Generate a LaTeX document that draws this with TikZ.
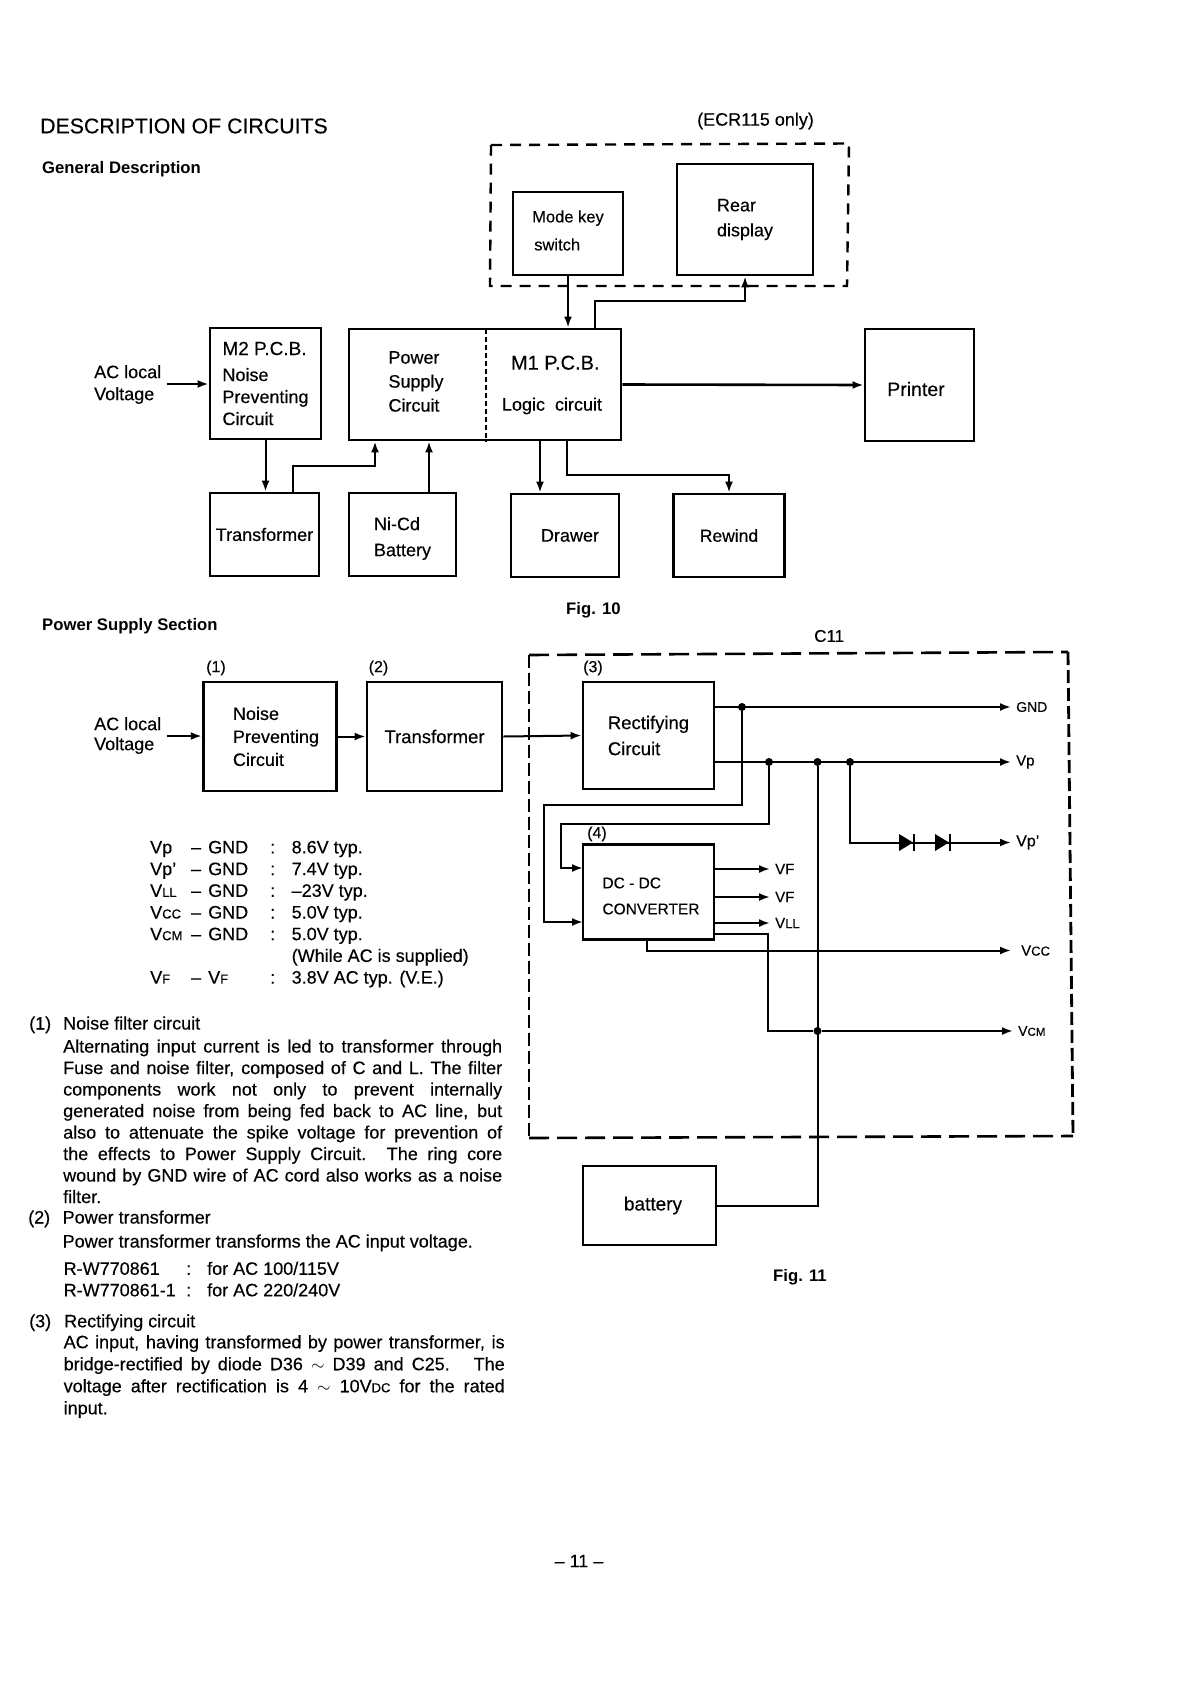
\documentclass[tikz,border=0pt]{standalone}
\usepackage{fontspec}
\usepackage{array}
\setmainfont{Liberation Sans}[UprightFeatures={FakeBold=0.3}]
\usetikzlibrary{arrows.meta}
\newcommand{\smc}[1]{{\fontsize{13}{13}\selectfont #1}}
\newcommand{\nudge}[2]{\raisebox{#1pt}[\height][\depth]{#2}}
\tikzset{
    blockbox/.style = {draw, line width=2.9pt, align=left, inner sep=0pt, font=\fontsize{18}{22}\selectfont},
    lbl/.style = {inner sep=0pt, anchor=west, align=left, font=\fontsize{18}{22}\selectfont},
    bodyline/.style = {lbl, anchor=base west},
    headbold/.style = {lbl, font=\fontsize{16.7}{20}\bfseries\selectfont},
    numlbl/.style = {lbl, font=\fontsize{16}{20}\selectfont},
    sig/.style = {lbl, inner xsep=5pt, font=\fontsize{15}{18}\selectfont},
    para/.style = {inner sep=0pt, anchor=north west, text width=439pt, align=justify},
    arr/.style = {line width=2pt, -{Latex[length=11pt,width=8pt]}},
    wire/.style = {line width=2pt},
    dashbox/.style = {line width=2.4pt, dash pattern=on 11pt off 8pt},
    dashlong/.style = {line width=2.6pt, dash pattern=on 20pt off 8pt},
    dashshort/.style = {line width=2.8pt, dash pattern=on 13pt off 5pt},
    dot/.style = {circle, fill, inner sep=0pt, minimum size=8pt},
    diodesym/.pic = {
        \fill (-7,-8.5) -- (7,0) -- (-7,8.5) -- cycle;
        \draw[line width=2pt] (8,-8.5) -- (8,8.5);
    }
}
\begin{document}
\begin{tikzpicture}[x=1pt, y=-1pt]
        \useasboundingbox (0,0) rectangle (1191,1683);

        \node (title) [lbl, font=\fontsize{21.3}{24}\selectfont] at (40,126) {\addfontfeature{FakeBold=1}DESCRIPTION OF CIRCUITS};
        \node (gendesc) [headbold] at (42,169) {General Description};
        \node (ecronly) [lbl] at (697,121) {(ECR115 only)};

        \draw[dashbox] (491,145) -- (849,143.5) -- (847,286) -- (490,286) -- cycle;

        \node (modekey) [blockbox, minimum width=110pt, minimum height=83pt] at (568,233.5) {\nudge{3}{\fontsize{16.5}{22}\selectfont Mode key}\\[6pt]\hspace*{2pt}\nudge{3}{\fontsize{16.5}{22}\selectfont switch}};
        \node (rear) [blockbox, minimum width=136pt, minimum height=111pt] at (745,219.5) {Rear\\[3pt]display};
        \node (m2) [blockbox, minimum width=111pt, minimum height=111pt] at (265.5,383.5) {{\fontsize{19}{23}\selectfont M2 P.C.B.}\\[4pt]Noise\\Preventing\\Circuit};
        \node (pcb) [blockbox, minimum width=272pt, minimum height=111pt] at (485,384.5) {};
        \node (psutext) [lbl, anchor=center] at (416,381.5) {Power\\[2pt]Supply\\[2pt]Circuit};
        \node (m1text) [lbl, anchor=center] at (552,385) {\hspace*{9pt}{\fontsize{20}{23}\selectfont M1 P.C.B.}\\[19pt]Logic\ \ circuit};
        \node (printer) [blockbox, minimum width=109pt, minimum height=112pt, font=\fontsize{19.5}{22}\selectfont] at (919.5,385) {\nudge{-4}{Printer}\hspace*{7pt}};
        \node (trafo) [blockbox, minimum width=109pt, minimum height=83pt] at (264.5,534.5) {Transformer};
        \node (nicd) [blockbox, minimum width=107pt, minimum height=83pt] at (402.5,534.5) {\nudge{-4}{Ni-Cd}\\[4pt]\nudge{-4}{Battery}};
        \node (drawer) [blockbox, minimum width=108pt, minimum height=83pt] at (565,535.5) {\hspace*{10pt}Drawer};
        \node (rewind) [blockbox, minimum width=111pt, minimum height=83pt, font=\fontsize{17.5}{22}\selectfont] at (729,535.5) {Rewind};
        \node (acone) [lbl] at (94,384.5) {AC local\\Voltage};
        \node (figten) [headbold] at (566,610) {Fig. 10};

        \coordinate (acstart) at (167,384);
        \coordinate (rearup) at (595,301);
        \coordinate (psuup) at (293,466);
        \coordinate (psuin) at (375,466);
        \coordinate (nicdup) at (429,466);
        \coordinate (drawdown) at (540,466);
        \coordinate (rewdown) at (567,475);
        \coordinate (divtop) at (486,329);

        \draw[arr] (acstart) -- (m2.west |- acstart);
        \draw[arr] (modekey.south) -- (pcb.north -| modekey.south);
        \draw[arr] (pcb.north -| rearup) -- (rearup) -| (rear.south);
        \draw[arr, line width=2.6pt] (pcb.east) -- (printer.west);
        \draw[arr] (m2.south) -- (m2.south |- trafo.north);
        \draw[arr] (trafo.north -| psuup) -- (psuup) -- (psuin) -- (pcb.south -| psuin);
        \draw[arr] (nicd.north -| nicdup) -- (pcb.south -| nicdup);
        \draw[arr] (pcb.south -| drawdown) -- (drawer.north -| drawdown);
        \draw[arr] (pcb.south -| rewdown) -- (rewdown) -| (rewind.north);
        \draw[line width=1.4pt, dash pattern=on 5pt off 3pt] (divtop) -- (pcb.south -| divtop);

        \node (pssec) [headbold] at (42,626) {Power Supply Section};
        \node (celeven) [lbl, font=\fontsize{17}{20}\selectfont] at (814,636) {C11};
        \node (numone) [numlbl] at (206,668) {(1)};
        \node (numtwo) [numlbl] at (368.5,668) {(2)};
        \node (numthree) [numlbl] at (583,668) {(3)};
        \node (numfour) [numlbl] at (587,834) {(4)};

        \draw[dashlong] (529,655) -- (1068,652);
        \draw[dashlong] (529,1138) -- (1073,1136);
        \draw[dashshort] (529,655) -- (529,1138);
        \draw[dashshort] (1068,652) -- (1073,1136);

        \node (noise) [blockbox, minimum width=133.5pt, minimum height=109pt] at (270,736.5) {\hspace*{12pt}Noise\\[1pt]\hspace*{12pt}Preventing\\[1pt]\hspace*{12pt}Circuit};
        \node (trafob) [blockbox, minimum width=135pt, minimum height=109pt, font=\fontsize{18.5}{22}\selectfont] at (434.5,736.5) {Transformer};
        \node (rect) [blockbox, minimum width=131pt, minimum height=107pt, font=\fontsize{18.5}{22}\selectfont] at (648.5,735.5) {Rectifying\\[4pt]Circuit};
        \node (dcdc) [blockbox, minimum width=131pt, minimum height=95pt, font=\fontsize{15.5}{22}\selectfont] at (648.5,892) {\hspace*{5pt}\nudge{-4}{DC - DC}\\[4pt]\hspace*{5pt}\nudge{-4}{CONVERTER}};
        \node (bat) [blockbox, minimum width=133pt, minimum height=79pt, font=\fontsize{19}{22}\selectfont] at (649.5,1205.5) {\hspace*{7pt}battery};
        \node (actwo) [lbl] at (94,735.5) {AC local\\[-2pt]Voltage};
        \node (figeleven) [headbold] at (773,1277) {Fig. 11};

        \node (gnd) [sig, font=\fontsize{14}{18}\selectfont] at (1011,707) {GND};
        \node (vp) [sig] at (1011,762) {Vp};
        \node (vpp) [sig, font=\fontsize{16}{18}\selectfont] at (1011,842.5) {Vp'};
        \node (vfone) [sig] at (770,869) {VF};
        \node (vftwo) [sig] at (770,897) {VF};
        \node (vll) [sig] at (770,923) {V\smc{LL}};
        \node (vcc) [sig] at (1016,950.5) {V\smc{CC}};
        \node (vcm) [sig, font=\fontsize{14}{18}\selectfont] at (1013,1031) {V{\fontsize{11.5}{13}\selectfont CM}};

        \node (dgnd) [dot] at (742,707) {};
        \node (dvpa) [dot] at (769,762) {};
        \node (dvpb) [dot] at (817.5,762) {};
        \node (dvpc) [dot] at (850,762) {};
        \node (dvcm) [dot] at (817.5,1031) {};

        \coordinate (acbstart) at (167,736);
        \coordinate (gndleft) at (544,804.5);
        \coordinate (gndin) at (583,922);
        \coordinate (vpleft) at (561,824);
        \coordinate (vpin) at (583,868);
        \coordinate (vccout) at (647,950.5);
        \coordinate (vcmout) at (768,934);

        \draw[arr] (acbstart) -- (noise.west |- acbstart);
        \draw[arr] (noise.east) -- (trafob.west);
        \draw[arr] (trafob.east) -- (rect.west);
        \draw[arr] (rect.east |- dgnd) -- (gnd.west |- dgnd);
        \draw[arr] (rect.east |- dvpa) -- (vp.west |- dvpa);
        \draw[arr] (dgnd) |- (gndleft) |- (gndin);
        \draw[arr] (dvpa) |- (vpleft) |- (vpin);
        \draw[arr] (dvpc) |- (vpp.west);
        \pic at (906,842.5) {diodesym};
        \pic at (942,842.5) {diodesym};
        \draw[arr] (dcdc.east |- vfone) -- (vfone.west);
        \draw[arr] (dcdc.east |- vftwo) -- (vftwo.west);
        \draw[arr] (dcdc.east |- vll) -- (vll.west);
        \draw[arr] (dcdc.south -| vccout) -- (vccout) -- ([xshift=-5pt]vcc.west);
        \draw[wire] (dcdc.east |- vcmout) -- (vcmout) |- (dvcm);
        \draw[arr] (dvcm) -- (vcm.west);
        \draw[wire] (bat.east) -| (dvpb);

        \node (vtable) [inner sep=0pt, anchor=north west, font=\fontsize{18}{21.7}\selectfont] at (150,838) {\begin{tabular}{@{}p{41pt}@{}p{17pt}@{}p{62pt}@{}p{21.5pt}@{}l@{}}
            Vp & -- & GND & : & 8.6V typ.\\
            Vp' & -- & GND & : & 7.4V typ.\\
            V\smc{LL} & -- & GND & : & --23V typ.\\
            V\smc{CC} & -- & GND & : & 5.0V typ.\\
            V\smc{CM} & -- & GND & : & 5.0V typ.\\
            & & & & (While AC is supplied)\\
            V\smc{F} & -- & V\smc{F} & : & 3.8V AC typ. (V.E.)
        \end{tabular}};

        \node (itemone) [bodyline] at (29,1029.5) {(1)};
        \node (itemonehead) [bodyline] at (63,1029.5) {Noise filter circuit};
        \node (itemonebody) [para, font=\fontsize{18}{21.5}\selectfont] at (63,1039.3) {Alternating input current is led to transformer through\linebreak
            Fuse and noise filter, composed of C and L. The filter\linebreak
            components work not only to prevent internally\linebreak
            generated noise from being fed back to AC line, but\linebreak
            also to attenuate the spike voltage for prevention of\linebreak
            the effects to Power Supply Circuit. The ring core\linebreak
            wound by GND wire of AC cord also works as a noise\linebreak
            filter.};
        \node (itemtwo) [bodyline] at (28,1223.5) {(2)};
        \node (itemtwohead) [bodyline] at (62.5,1223.5) {Power transformer};
        \node (itemtwobody) [bodyline] at (62.5,1247.5) {Power transformer transforms the AC input voltage.};
        \node (partone) [bodyline] at (63.5,1274.8) {R-W770861};
        \node (colone) [bodyline] at (186,1274.8) {:};
        \node (useone) [bodyline] at (207,1274.8) {for AC 100/115V};
        \node (parttwo) [bodyline] at (63.5,1296.3) {R-W770861-1};
        \node (coltwo) [bodyline] at (186,1296.3) {:};
        \node (usetwo) [bodyline] at (207,1296.3) {for AC 220/240V};
        \node (itemthree) [bodyline] at (29,1327.3) {(3)};
        \node (itemthreehead) [bodyline] at (64,1327.3) {Rectifying circuit};
        \node (itemthreebody) [para, text width=441pt, font=\fontsize{18}{22}\selectfont] at (63.5,1335) {AC input, having transformed by power transformer, is\linebreak
            bridge-rectified by diode D36 $\sim$ D39 and C25. \ The\linebreak
            voltage after rectification is 4 $\sim$ 10V\smc{DC} for the rated\linebreak
            input.};
        \node (pagenum) [lbl, anchor=center] at (579,1561) {-- 11 --};
\end{tikzpicture}
\end{document}
